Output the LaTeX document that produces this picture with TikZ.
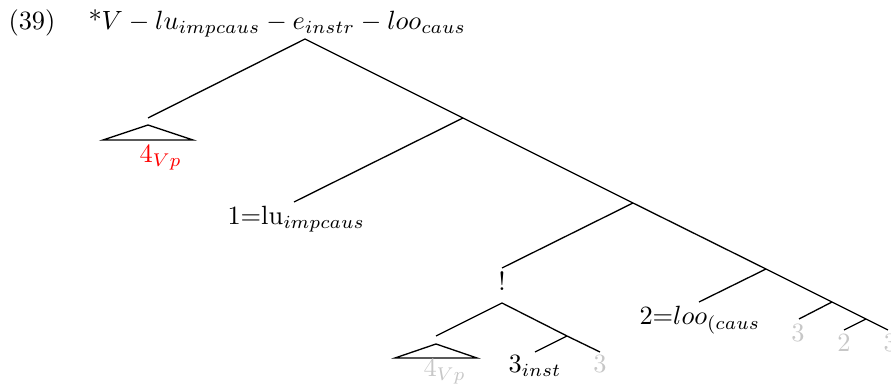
\documentclass[tikz,border=0pt]{standalone}
\begin{document}
\begin{tikzpicture}[x=0.379pt,y=-0.379pt,
  br/.style={line width=0.5pt},
  lbl/.style={inner sep=0pt,anchor=base west},
  lblc/.style={inner sep=0pt,anchor=base},
  ghost/.style={text=black!22},
  tri/.style={line width=0.5pt}]
\useasboundingbox (0,0) rectangle (891,392);
\clip (0,0) rectangle (891,392);
% title
\node[lbl] (num) at (8,30) {(39)};
\node[lbl] (title) at (88,30) {*$V - lu_{impcaus} - e_{instr} - loo_{caus}$};
% tree points
\coordinate (root) at (305,39);
\coordinate (l1) at (148,118);
\coordinate (n1) at (463,118);
\coordinate (l2) at (294,202);
\coordinate (n2) at (633,203);
\coordinate (l3) at (502,268);
\coordinate (n3) at (766,269);
\coordinate (l4) at (699,302);
\coordinate (n4) at (832,302);
\coordinate (l5) at (799,319);
\coordinate (n5) at (866,319);
\coordinate (l6) at (844,330);
\coordinate (e) at (888,330);
% sub tree under !
\coordinate (b) at (502,303);
\coordinate (bl) at (436,336);
\coordinate (bm) at (567,336);
\coordinate (bml) at (535,352);
\coordinate (br) at (600,352);
% triangles
\coordinate (t1a) at (148,125);
\coordinate (t1l) at (103,140);
\coordinate (t1r) at (193,140);
\coordinate (t2a) at (436,344);
\coordinate (t2l) at (395,358);
\coordinate (t2r) at (477,358);
% branches
\draw[br] (l1) -- (root) -- (n1) -- (n2) -- (n3) -- (n4) -- (n5) -- (e);
\draw[br] (n1) -- (l2);
\draw[br] (n2) -- (l3);
\draw[br] (n3) -- (l4);
\draw[br] (n4) -- (l5);
\draw[br] (n5) -- (l6);
\draw[br] (bl) -- (b) -- (bm) -- (br);
\draw[br] (bm) -- (bml);
\draw[tri] (t1a) -- (t1r) -- (t1l) -- cycle;
\draw[tri] (t2a) -- (t2r) -- (t2l) -- cycle;
% labels
\node[lbl,text=red] (v1) at (139,163) {4$_{Vp}$};
\node[lbl] (lu) at (227,225) {1=lu$_{impcaus}$};
\node[lblc] (bang) at (502,291) {!};
\node[lbl,ghost] (v2) at (423,377) {4$_{Vp}$};
\node[lbl] (inst) at (508,373) {$3_{inst}$};
\node[lblc,ghost] (g1) at (600,373) {3};
\node[lbl] (loo) at (639,325) {2=$loo_{(caus}$};
\node[lblc,ghost] (g2) at (798,342) {3};
\node[lblc,ghost] (g3) at (844,352) {2};
\node[lbl,ghost] (g4) at (883,352) {3};
\end{tikzpicture}
\end{document}
